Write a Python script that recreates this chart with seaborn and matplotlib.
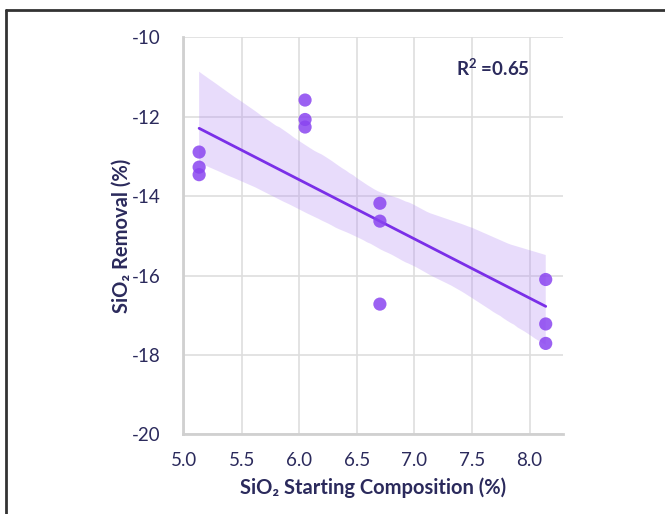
import matplotlib
matplotlib.use("Agg")
import matplotlib.pyplot as plt
from matplotlib.lines import Line2D
import seaborn as sns
import pandas as pd

# Data
sio2_start = [5.13, 5.13, 5.13, 6.05, 6.05, 6.05, 6.70, 6.70, 6.70, 8.14, 8.14, 8.14]
sio2_removal = [-12.89, -13.27, -13.46, -11.58, -12.07, -12.26,
                -14.18, -14.63, -16.72, -16.10, -17.22, -17.71]
x_ticks = [5.0, 5.5, 6.0, 6.5, 7.0, 7.5, 8.0]
y_ticks = [-20, -18, -16, -14, -12, -10]
r2_text = r"$\mathbf{R^{2}}$ =0.65"

df = pd.DataFrame({"start": sio2_start, "removal": sio2_removal})

sns.set_theme(style="whitegrid")
plt.rcParams["font.family"] = ["Lato", "DejaVu Sans"]
plt.rcParams["mathtext.fontset"] = "custom"
plt.rcParams["mathtext.rm"] = "Lato"
plt.rcParams["mathtext.bf"] = "Lato:bold"

TXT = "#2b2a5c"
PT = "#8a45f0"
LN = "#7a2fe8"

fig = plt.figure(figsize=(6.65, 5.14), dpi=100)
ax = fig.add_axes([0.2752, 0.155, 0.5714, 0.7724])

sns.regplot(data=df, x="start", y="removal", ax=ax, ci=95, seed=0,
            color=LN, truncate=True,
            scatter_kws=dict(s=90, color=PT, alpha=0.85, edgecolor="none", zorder=3),
            line_kws=dict(color=LN, lw=2, zorder=2))
# band: make it lavender
for c in ax.collections:
    if c.__class__.__name__ in ("PolyCollection", "FillBetweenPolyCollection"):
        c.set_facecolor("#b48cf5")
        c.set_alpha(0.3)
        c.set_edgecolor("none")

ax.set_xlim(4.99, 8.29)
ax.set_ylim(-20, -10)
ax.set_xticks(x_ticks)
ax.set_yticks(y_ticks)
ax.set_xticklabels([f"{v:.1f}" for v in x_ticks])
ax.set_yticklabels([str(v) for v in y_ticks])
ax.grid(True, color="#dedede", lw=1.2)
ax.set_axisbelow(True)
for s in ["top", "right"]:
    ax.spines[s].set_visible(False)
for s in ["left", "bottom"]:
    ax.spines[s].set_color("#d0d0d0")
    ax.spines[s].set_linewidth(2)
ax.tick_params(axis="both", length=0, labelsize=13.5, colors=TXT)
ax.tick_params(axis="x", pad=13)
ax.tick_params(axis="y", pad=16)

ax.set_xlabel("SiO₂ Starting Composition (%)", fontsize=14.5, fontweight="bold",
              color=TXT, labelpad=6)
ax.set_ylabel("SiO₂ Removal (%)", fontsize=14.5, fontweight="bold",
              color=TXT, labelpad=0)

ax.text(0.913, 0.923, r2_text, transform=ax.transAxes, ha="right", va="center",
        fontsize=13.5, fontweight="bold", color=TXT)

# outer frame
fig.add_artist(Line2D([6/665, 6/665], [0, 1 - 10/514], transform=fig.transFigure,
                      color="#333333", lw=2))
fig.add_artist(Line2D([6/665, 1], [1 - 10/514, 1 - 10/514], transform=fig.transFigure,
                      color="#333333", lw=2))

fig.savefig("out.png", dpi=100, facecolor="white")
